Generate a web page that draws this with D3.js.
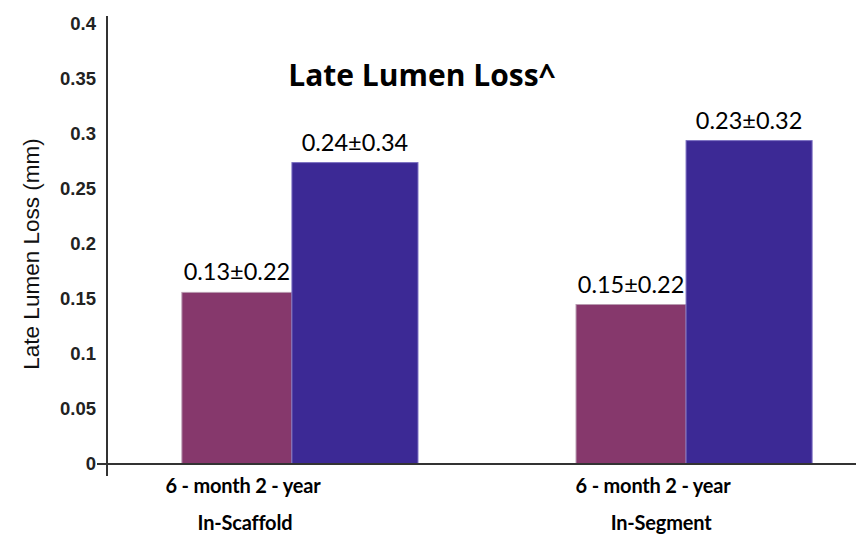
<!DOCTYPE html>
<html>
<head>
<meta charset="utf-8">
<script src="https://cdn.jsdelivr.net/npm/d3@7"></script>
<style>
  body { margin: 0; background: #fff; }
  svg { display: block; }
</style>
</head>
<body>
<svg id="chart" width="856" height="535"></svg>
<script>
// data
var groups = ["In-Scaffold", "In-Segment"];
var series = ["6 - month", "2 - year"];
var sixMonth = [0.156, 0.145];
var twoYear = [0.274, 0.294];
var valueLabels = [["0.13±0.22", "0.24±0.34"], ["0.15±0.22", "0.23±0.32"]];
var yTicks = [0, 0.05, 0.1, 0.15, 0.2, 0.25, 0.3, 0.35, 0.4];

// layout
var colors = ["#86386c", "#3c2995"];
var edges = ["#b99ab0", "#7a6fc2"];
var seriesShare = [110, 126];      // purple bars are a bit narrower than blue ones
var groupLabelShift = [-57, -41];

var svg = d3.select("#chart");

var y = d3.scaleLinear().domain([0, 0.4]).range([464, 24]);

var x0 = d3.scaleBand()
  .domain(groups)
  .range([107, 887])
  .paddingInner(0.401)
  .paddingOuter(0.19);

var shareSum = d3.sum(seriesShare);
function barX(g, s) {
  var before = d3.sum(seriesShare.slice(0, s));
  return x0(g) + x0.bandwidth() * before / shareSum;
}
function barW(s) {
  return x0.bandwidth() * seriesShare[s] / shareSum;
}

var rows = [];
groups.forEach(function(g, i) {
  [sixMonth[i], twoYear[i]].forEach(function(v, s) {
    rows.push({ group: g, s: s, value: v, label: valueLabels[i][s] });
  });
});

// bars
svg.selectAll("rect.bar")
  .data(rows)
  .enter()
  .append("rect")
  .attr("class", "bar")
  .attr("x", function(d) { return barX(d.group, d.s); })
  .attr("y", function(d) { return y(d.value); })
  .attr("width", function(d) { return barW(d.s); })
  .attr("height", function(d) { return y(0) - y(d.value); })
  .attr("fill", function(d) { return colors[d.s]; })
  .attr("stroke", function(d) { return edges[d.s]; })
  .attr("stroke-width", 1);

// value labels
svg.selectAll("text.val")
  .data(rows)
  .enter()
  .append("text")
  .attr("class", "val")
  .attr("x", function(d) { return barX(d.group, d.s) + barW(d.s) / 2; })
  .attr("y", function(d) { return y(d.value) - 12; })
  .attr("text-anchor", "middle")
  .style("font-family", "Lato, sans-serif")
  .style("font-size", "23.5px")
  .attr("fill", "#000")
  .text(function(d) { return d.label; });

// y axis
var yAxis = d3.axisLeft(y)
  .tickValues(yTicks)
  .tickSize(0)
  .tickPadding(11)
  .tickFormat(function(d) { return d3.format("")(+d.toFixed(2)); });

var gy = svg.append("g")
  .attr("transform", "translate(107,0)")
  .call(yAxis);
gy.select(".domain").remove();
gy.selectAll("text")
  .style("font-family", "'Liberation Sans', Arial, sans-serif")
  .style("font-weight", "bold")
  .style("font-size", "18.5px")
  .attr("fill", "#222");

svg.append("line")
  .attr("x1", 107).attr("x2", 107)
  .attr("y1", 16).attr("y2", 476)
  .attr("stroke", "#333").attr("stroke-width", 2);

svg.append("line")
  .attr("x1", 97).attr("x2", 856)
  .attr("y1", y(0)).attr("y2", y(0))
  .attr("stroke", "#333").attr("stroke-width", 2);

// group labels
groups.forEach(function(g, i) {
  var cx = x0(g) + x0.bandwidth() / 2 + groupLabelShift[i];
  svg.append("text")
    .attr("x", cx).attr("y", 493)
    .attr("text-anchor", "middle")
    .style("font-family", "Lato, sans-serif")
    .style("font-weight", "bold")
    .style("font-size", "20px")
    .style("letter-spacing", "-0.2px")
    .text(series.join(" "));
  svg.append("text")
    .attr("x", cx + (i === 0 ? 2 : 8)).attr("y", 530)
    .attr("text-anchor", "middle")
    .style("font-family", "Lato, sans-serif")
    .style("font-weight", "bold")
    .style("font-size", "20px")
    .style("letter-spacing", "-0.2px")
    .text(g);
});

// axis title
svg.append("text")
  .attr("transform", "translate(39,254) rotate(-90)")
  .attr("text-anchor", "middle")
  .style("font-family", "'Liberation Sans', Arial, sans-serif")
  .style("font-size", "22.5px")
  .attr("fill", "#111")
  .text("Late Lumen Loss (mm)");

// chart title
svg.append("text")
  .attr("x", 422).attr("y", 86)
  .attr("text-anchor", "middle")
  .style("font-family", "'Open Sans', sans-serif")
  .style("font-weight", "bold")
  .style("font-size", "30px")
  .text("Late Lumen Loss^");
</script>
</body>
</html>
